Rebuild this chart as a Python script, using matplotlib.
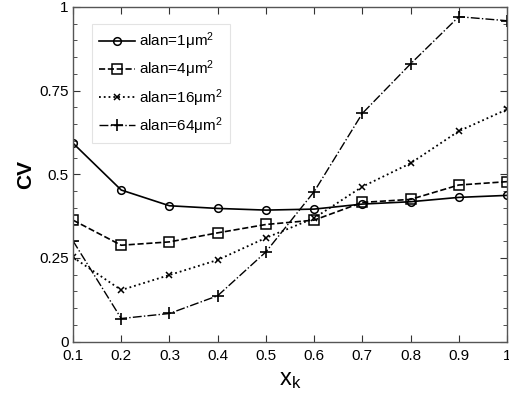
import numpy as np
import matplotlib
matplotlib.use("Agg")
from matplotlib import pyplot as plt
from matplotlib.ticker import MultipleLocator

plt.rcParams['font.family'] = ['Liberation Sans', 'DejaVu Sans']
plt.rcParams['mathtext.fontset'] = 'custom'
plt.rcParams['mathtext.rm'] = 'Liberation Sans'
plt.rcParams['mathtext.it'] = 'Liberation Sans'

# data
xk = [0.1, 0.2, 0.3, 0.4, 0.5, 0.6, 0.7, 0.8, 0.9, 1.0]
cv_1 = [0.593, 0.453, 0.406, 0.398, 0.393, 0.396, 0.411, 0.418, 0.431, 0.437]
cv_4 = [0.363, 0.288, 0.298, 0.325, 0.350, 0.363, 0.416, 0.425, 0.468, 0.478]
cv_16 = [0.252, 0.154, 0.199, 0.244, 0.310, 0.369, 0.463, 0.533, 0.629, 0.694]
cv_64 = [0.301, 0.069, 0.084, 0.137, 0.268, 0.448, 0.682, 0.830, 0.971, 0.959]
labels = ['alan=1μm$^2$', 'alan=4μm$^2$', 'alan=16μm$^2$', 'alan=64μm$^2$']
yticks = [0, 0.25, 0.5, 0.75, 1]
ytick_labels = ['0', '0.25', '0.5', '0.75', '1']
xticks = [0.1, 0.2, 0.3, 0.4, 0.5, 0.6, 0.7, 0.8, 0.9, 1.0]
xtick_labels = ['0.1', '0.2', '0.3', '0.4', '0.5', '0.6', '0.7', '0.8', '0.9', '1']

fig = plt.figure(figsize=(5.09, 3.96), dpi=100)
ax = fig.add_axes([73 / 509, 1 - 341.6 / 396, 434 / 509, 334.6 / 396])

ax.plot(xk, cv_1, '-', color='k', lw=1.2, marker='o', ms=5.5, mfc='none', mew=1.1, label=labels[0])
ax.plot(xk, cv_4, '--', color='k', lw=1.2, marker='s', ms=6.5, mfc='none', mew=1.1, label=labels[1])
ax.plot(xk, cv_16, ':', color='k', lw=1.3, marker='x', ms=4, mew=1.1, label=labels[2])
ax.plot(xk, cv_64, '-.', color='k', lw=1.0, marker='+', ms=8, mew=1.2, label=labels[3])

ax.set_xlim(0.1, 1.0)
ax.set_ylim(0, 1)
ax.set_xticks(xticks)
ax.set_xticklabels(xtick_labels)
ax.set_yticks(yticks)
ax.set_yticklabels(ytick_labels)
ax.yaxis.set_minor_locator(MultipleLocator(0.05))
ax.tick_params(which='both', direction='in', top=True, right=True, labelsize=11, color='#333333')
ax.tick_params(axis='x', pad=5.5)
ax.tick_params(axis='y', pad=3)
ax.tick_params(which='major', length=5)
ax.tick_params(which='minor', length=3)
for s in ax.spines.values():
    s.set_color('#555555')
    s.set_linewidth(1.0)

ax.set_ylabel('CV', fontsize=15, fontweight='bold', labelpad=3)
ax.set_xlabel(r'$\mathregular{x_k}$', fontsize=17, labelpad=4)

leg = ax.legend(loc='upper left', bbox_to_anchor=(19 / 434, 1 - 17 / 334.6), fontsize=11,
                frameon=True, fancybox=False, edgecolor='#dddddd', handlelength=2.35,
                handletextpad=0.3, labelspacing=0.42, borderpad=0.45, borderaxespad=0)
leg.get_frame().set_linewidth(0.8)

fig.savefig('out.png', dpi=100)
